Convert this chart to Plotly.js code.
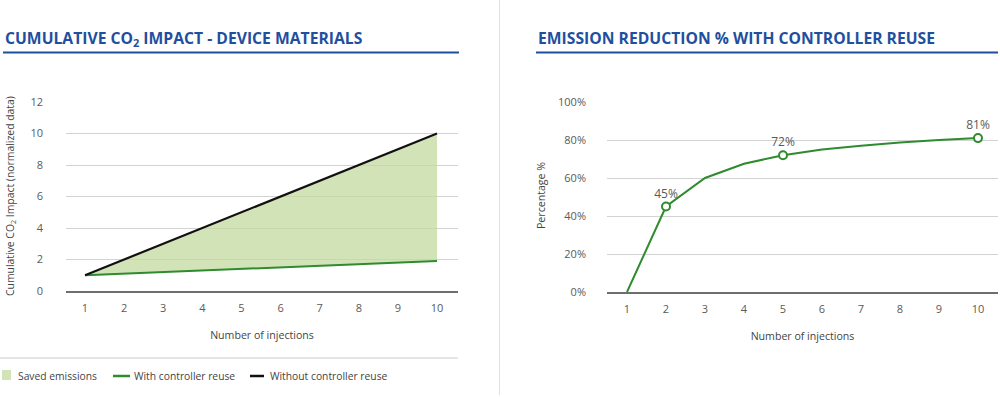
<!DOCTYPE html>
<html>
<head>
<meta charset="utf-8">
<script src="https://cdn.plot.ly/plotly-3.0.1.min.js"></script>
<style>html,body{margin:0;padding:0;background:#fff;}#chart{width:1000px;height:397px;}</style>
</head>
<body>
<div id="chart"></div>
<script>
// ---- data ----
const injections = [1, 2, 3, 4, 5, 6, 7, 8, 9, 10];
const withReuse = [1.0, 1.1, 1.2, 1.3, 1.4, 1.5, 1.6, 1.7, 1.8, 1.9];
const withoutReuse = [1, 2, 3, 4, 5, 6, 7, 8, 9, 10];
const reductionPct = [0, 45, 60, 67.5, 72, 75, 77, 78.75, 80, 81];
const labelledInjections = [2, 5, 10];
const labelledPct = [45, 72, 81];
const labelledText = ['45%', '72%', '81%'];
const leftTicks = [0, 2, 4, 6, 8, 10, 12];
const rightTicks = [0, 20, 40, 60, 80, 100];
const rightTickText = ['0%', '20%', '40%', '60%', '80%', '100%'];

const W = 1000, H = 397;
const px = x => x / W;
const py = y => 1 - y / H;

const FONT = 'Open Sans, Noto Sans, sans-serif';
const GRAY = '#5a5a5a';
const BLUE = '#1f4f9e';
const GREEN = '#2e8b2e';
const FILL = 'rgba(196,217,160,0.75)';

const traces = [
  {x: injections, y: withReuse, xaxis: 'x', yaxis: 'y', mode: 'lines',
   line: {width: 0, color: GREEN}, showlegend: false, hoverinfo: 'skip'},
  {x: injections, y: withoutReuse, xaxis: 'x', yaxis: 'y', mode: 'lines', fill: 'tonexty',
   fillcolor: FILL, line: {width: 0}, name: 'Saved emissions', showlegend: false},
  {x: injections, y: withReuse, xaxis: 'x', yaxis: 'y', mode: 'lines',
   line: {width: 2, color: GREEN}, name: 'With controller reuse', showlegend: false},
  {x: injections, y: withoutReuse, xaxis: 'x', yaxis: 'y', mode: 'lines',
   line: {width: 2.2, color: '#111111'}, name: 'Without controller reuse', showlegend: false},
  {x: injections, y: reductionPct, xaxis: 'x2', yaxis: 'y2', mode: 'lines',
   line: {width: 2, color: GREEN}, showlegend: false},
  {x: labelledInjections, y: labelledPct, xaxis: 'x2', yaxis: 'y2', mode: 'markers+text',
   text: labelledText, textposition: 'top center',
   textfont: {family: FONT, size: 12, color: GRAY},
   marker: {size: 8, color: '#ffffff', line: {color: GREEN, width: 2}}, showlegend: false}
];

const axX = {
  tickmode: 'array', tickvals: injections, ticktext: injections.map(String),
  showgrid: false, zeroline: false, showline: true, linecolor: '#6e6e6e', linewidth: 1.5,
  ticks: '', ticklabelstandoff: 6,
  tickfont: {family: FONT, size: 11, color: GRAY},
  title: {text: 'Number of injections', font: {family: FONT, size: 10.6, color: '#444'}, standoff: 18},
  fixedrange: true
};

const layout = {
  width: W, height: H,
  margin: {l: 0, r: 0, t: 0, b: 0},
  paper_bgcolor: '#ffffff', plot_bgcolor: '#ffffff',
  showlegend: false,
  font: {family: FONT, color: GRAY},
  xaxis: Object.assign({}, axX, {domain: [px(66), px(458)], range: [0.514, 10.537], anchor: 'y'}),
  yaxis: {
    domain: [py(291), py(102)], range: [0, 12], anchor: 'x',
    tickmode: 'array', tickvals: leftTicks,
    showgrid: true, gridcolor: '#d3d3d3', gridwidth: 1, zeroline: false, showline: false,
    ticks: '', ticklabelstandoff: 22,
    tickfont: {family: FONT, size: 11, color: GRAY},
    fixedrange: true
  },
  xaxis2: Object.assign({}, axX, {domain: [px(607), px(998)], range: [0.487, 10.513], anchor: 'y2'}),
  yaxis2: {
    domain: [py(292), py(102)], range: [0, 100], anchor: 'x2',
    tickmode: 'array', tickvals: rightTicks, ticktext: rightTickText,
    showgrid: true, gridcolor: '#d3d3d3', gridwidth: 1, zeroline: false, showline: false,
    ticks: '', ticklabelstandoff: 20,
    tickfont: {family: FONT, size: 11, color: GRAY},
    fixedrange: true
  },
  shapes: [
    {type: 'line', xref: 'paper', yref: 'paper', x0: px(3), x1: px(459), y0: py(52.5), y1: py(52.5), line: {color: BLUE, width: 2}},
    {type: 'line', xref: 'paper', yref: 'paper', x0: px(536), x1: px(998), y0: py(52.5), y1: py(52.5), line: {color: BLUE, width: 2}},
    {type: 'line', xref: 'paper', yref: 'paper', x0: px(499.5), x1: px(499.5), y0: py(0), y1: py(395), line: {color: '#e2e2e2', width: 1}},
    {type: 'line', xref: 'paper', yref: 'paper', x0: px(0), x1: px(458), y0: py(358), y1: py(358), line: {color: '#dddddd', width: 1.5}},
    {type: 'rect', xref: 'paper', yref: 'paper', x0: px(2), x1: px(11), y0: py(380), y1: py(370), fillcolor: FILL, line: {width: 0}},
    {type: 'line', xref: 'paper', yref: 'paper', x0: px(113), x1: px(130), y0: py(376), y1: py(376), line: {color: GREEN, width: 2.5}},
    {type: 'line', xref: 'paper', yref: 'paper', x0: px(250), x1: px(264), y0: py(376), y1: py(376), line: {color: '#111', width: 2.5}}
  ],
  annotations: [
    {text: '<b>CUMULATIVE CO<sub>2</sub> IMPACT - DEVICE MATERIALS</b>', xref: 'paper', yref: 'paper',
     x: px(3), y: py(38), xanchor: 'left', yanchor: 'middle', showarrow: false,
     font: {family: FONT, size: 15.7, color: BLUE}},
    {text: '<b>EMISSION REDUCTION % WITH CONTROLLER REUSE</b>', xref: 'paper', yref: 'paper',
     x: px(536), y: py(38), xanchor: 'left', yanchor: 'middle', showarrow: false,
     font: {family: FONT, size: 15.7, color: BLUE}},
    {text: 'Cumulative CO<sub>2</sub> Impact (normalized data)', xref: 'paper', yref: 'paper',
     x: px(10), y: py(196), xanchor: 'center', yanchor: 'middle', textangle: -90, showarrow: false,
     font: {family: FONT, size: 10.4, color: '#444'}},
    {text: 'Percentage %', xref: 'paper', yref: 'paper',
     x: px(541), y: py(196), xanchor: 'center', yanchor: 'middle', textangle: -90, showarrow: false,
     font: {family: FONT, size: 10.6, color: '#444'}},
    {text: 'Saved emissions', xref: 'paper', yref: 'paper', x: px(16), y: py(376), xanchor: 'left', yanchor: 'middle',
     showarrow: false, font: {family: FONT, size: 10.3, color: '#444'}},
    {text: 'With controller reuse', xref: 'paper', yref: 'paper', x: px(132), y: py(376), xanchor: 'left', yanchor: 'middle',
     showarrow: false, font: {family: FONT, size: 10.3, color: '#444'}},
    {text: 'Without controller reuse', xref: 'paper', yref: 'paper', x: px(268), y: py(376), xanchor: 'left', yanchor: 'middle',
     showarrow: false, font: {family: FONT, size: 10.3, color: '#444'}}
  ]
};

Plotly.newPlot('chart', traces, layout, {displayModeBar: false, staticPlot: true});
</script>
</body>
</html>
